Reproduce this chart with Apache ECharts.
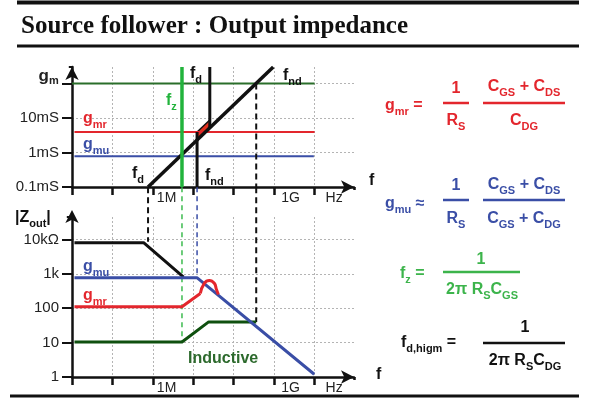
<!DOCTYPE html>
<html><head><meta charset="utf-8">
<script src="https://cdn.jsdelivr.net/npm/echarts@6/dist/echarts.min.js"></script>
<style>html,body{margin:0;padding:0;background:#fff}#c{width:604px;height:400px}</style>
</head><body><div id="c"></div>
<script>
// ---------------- data ----------------
// x tick labels by decade exponent of frequency (Hz)
const freqTickLabels = {6: '1M', 9: '1G', 10: 'Hz'};
// upper y tick labels by decade exponent of transconductance (S)
const gmTickLabels = {'-4': '0.1mS', '-3': '1mS', '-2': '10mS', '-1': 'gm'};
// lower y tick labels by decade exponent of |Zout| (ohm)
const zTickLabels = {0: '1', 1: '10', 2: '100', 3: '1k', 4: '10kΩ'};

// upper panel: transconductance vs frequency  [Hz, S]
const gmLine   = [[1e4, 0.1], [1e10, 0.1]];
const gmrLine  = [[1.15e4, 3.93e-3], [1e10, 3.93e-3]];
const gmuLine  = [[1.15e4, 7.8e-4], [9.6e9, 7.8e-4]];
const gmDiag   = [[7.6e5, 1e-4], [9.5e8, 0.3]];
const fzLine   = [[5.25e6, 1e-4], [5.25e6, 0.3]];
const fdVert   = [[2.56e7, 5.2e-3], [2.56e7, 0.3]];
const fndVert  = [[1.24e7, 1e-4], [1.24e7, 3.93e-3]];
const gmrPatch = [[1.24e7, 3.93e-3], [2.56e7, 8.7e-3], [2.56e7, 5.2e-3], [1.24e7, 2.36e-3]];
const fndHighTop = [[3.6e8, 0.1], [3.6e8, 1e-4]];

// lower panel: |Zout| vs frequency  [Hz, ohm]
const zBlack   = [[1.15e4, 8000], [5.9e5, 8000], [5.75e6, 800]];
const zBlue    = [[1.15e4, 770], [1.23e7, 770], [9.8e9, 1.2]];
const zRed     = [[1.15e4, 110], [5.25e6, 110], [1.49e7, 266]];
const zRedLoop = [[1.49e7, 266], [1.87e7, 530], [2.49e7, 640], [3.31e7, 530], [3.72e7, 355], [4.17e7, 250]];
const zGreen   = [[1.15e4, 10.4], [5.25e6, 10.4], [2.4e7, 40], [3.6e8, 40]];
// dashed guides (extend up across the gap between the panels)
const fdDash      = [[7.6e5, 3.3e5], [7.6e5, 8500]];
const fzDash      = [[5.25e6, 3.3e5], [5.25e6, 10.4]];
const fndDash     = [[1.24e7, 3.3e5], [1.24e7, 770]];
const fndHighDash = [[3.6e8, 3.3e5], [3.6e8, 40]];

// ---------------- styling ----------------
const FONT = '"Liberation Sans", Arial, sans-serif';
const C = {
  black: '#111111', red: '#e3262d', blue: '#3a4ea6',
  gmGreen: '#2a6e2a', fzGreen: '#22b33c', dkGreen: '#0f500f',
  inductive: '#2d6a2d', grid: '#b4b4b4', eqGreen: '#3cb44b'
};

function decade(v) {
  const l = Math.log10(v); const k = Math.round(l);
  return Math.abs(l - k) < 0.01 ? k : null;
}

function xAxisCfg(gridIndex) {
  return {
    type: 'log', logBase: 10, gridIndex, min: 1e4, max: 9.44e10,
    axisLine: { show: true, symbol: ['none', 'arrow'], symbolSize: [10, 13],
      lineStyle: { color: C.black, width: 2.5 } },
    axisTick: { show: true, inside: false, length: 8, lineStyle: { color: C.black, width: 2.5 } },
    splitLine: { show: true, showMinLine: false, showMaxLine: false,
      lineStyle: { color: C.grid, width: 1, type: [2, 2] } },
    minorTick: { show: false }, minorSplitLine: { show: false },
    axisLabel: {
      show: true, margin: 4, align: 'left', color: '#222', fontFamily: FONT, fontSize: 14,
      formatter: v => { const k = decade(v); const t = k === null ? null : freqTickLabels[k]; return t ? `{p${k}|${t}}` : ''; },
      rich: { p6: { padding: [0, 0, 0, 4], fontSize: 14, fontFamily: FONT, color: '#222' },
              p9: { padding: [0, 0, 0, 7], fontSize: 14, fontFamily: FONT, color: '#222' },
              p10: { padding: [0, 0, 0, 11], fontSize: 14, fontFamily: FONT, color: '#222' } }
    }
  };
}

function yAxisCfg(gridIndex, min, max, labels, arrowOffset) {
  return {
    type: 'log', logBase: 10, gridIndex, min, max,
    axisLine: { show: true, symbol: ['none', 'arrow'], symbolSize: [10, 13], symbolOffset: [0, arrowOffset],
      lineStyle: { color: C.black, width: 2.5 } },
    axisTick: { show: true, inside: false, length: 10, lineStyle: { color: C.black, width: 2 } },
    splitLine: { show: true, showMinLine: false, showMaxLine: false,
      lineStyle: { color: C.grid, width: 1, type: [2, 2] } },
    minorTick: { show: false }, minorSplitLine: { show: false },
    axisLabel: {
      show: true, margin: 13, color: '#222', fontFamily: FONT, fontSize: 15,
      formatter: v => { const k = decade(v); if (k === null) return ''; const t = labels[k];
        if (t === 'gm') return '{g|g}{m|m}{sp| }'; return t || ''; },
      rich: { g: { fontSize: 17, fontWeight: 'bold', fontFamily: FONT, color: '#222', verticalAlign: 'top' },
              m: { fontSize: 11, fontWeight: 'bold', fontFamily: FONT, color: '#222', verticalAlign: 'top', padding: [8, 0, 0, 0] },
              sp: { fontSize: 1, lineHeight: 32 } }
    }
  };
}

function line(data, color, width, xi, opts) {
  return Object.assign({
    type: 'line', xAxisIndex: xi, yAxisIndex: xi, data, symbol: 'none', silent: true,
    animation: false, lineStyle: { color, width, cap: 'butt', join: 'round' }
  }, opts || {});
}
function dashed(data, color, width, xi, dash) {
  return line(data, color, width, xi, { clip: false, lineStyle: { color, width, type: dash, cap: 'butt' } });
}

// rich text with subscript tokens
function rt(x, y, text, color, size, align) {
  const sub = Math.round(size * 0.7);
  return { type: 'text', z: 60, silent: true, style: {
    x, y, text, align: align || 'left', verticalAlign: 'middle', fill: color,
    font: `bold ${size}px ${FONT}`,
    rich: {
      n: { fill: color, fontSize: size, fontWeight: 'bold', fontFamily: FONT, lineHeight: size + 6 },
      s: { fill: color, fontSize: sub, fontWeight: 'bold', fontFamily: FONT, verticalAlign: 'bottom', lineHeight: sub + 1 }
    } } };
}
function bar(x1, x2, y, color) {
  return { type: 'line', z: 60, silent: true, shape: { x1, y1: y, x2, y2: y }, style: { stroke: color, lineWidth: 2.5 } };
}
function cover(x, y, w, h) {
  return { type: 'rect', z: 40, silent: true, shape: { x, y, width: w, height: h }, style: { fill: '#fff' } };
}

const graphics = [
  // frame lines + title
  { type: 'line', z: 60, shape: { x1: 17, y1: 2.5, x2: 579, y2: 2.5 }, style: { stroke: '#111', lineWidth: 4 } },
  { type: 'line', z: 60, shape: { x1: 17, y1: 46, x2: 579, y2: 46 }, style: { stroke: '#111', lineWidth: 3 } },
  { type: 'line', z: 60, shape: { x1: 10, y1: 396, x2: 579, y2: 396 }, style: { stroke: '#111', lineWidth: 3 } },
  { type: 'text', z: 60, style: { x: 21, y: 27, text: 'Source follower : Output impedance', verticalAlign: 'middle',
      fill: '#111', font: 'bold 25px "Liberation Serif", "Times New Roman", serif' } },
  // hide boundary ticks at axis ends
  cover(349, 190, 9, 8), cover(349, 380, 9, 8), cover(55, 65.5, 13.8, 3.2), cover(55, 215.4, 11.8, 3.2),
  // axis names
  rt(369, 181, '{n|f}', C.black, 16), rt(376, 375, '{n|f}', C.black, 16),
  rt(15, 218, '{n||Z}{s|out}{n||}', C.black, 16),
  // upper panel annotations
  rt(190, 74, '{n|f}{s|d}', C.black, 16),
  rt(283, 76, '{n|f}{s|nd}', C.black, 16),
  rt(166, 101, '{n|f}{s|z}', C.fzGreen, 16),
  rt(132, 174, '{n|f}{s|d}', C.black, 16),
  rt(205, 176, '{n|f}{s|nd}', C.black, 16),
  rt(83, 119, '{n|g}{s|mr}', C.red, 16),
  rt(83, 145, '{n|g}{s|mu}', C.blue, 16),
  // lower panel annotations
  rt(83, 267, '{n|g}{s|mu}', C.blue, 16),
  rt(83, 296, '{n|g}{s|mr}', C.red, 16),
  rt(188, 359, '{n|Inductive}', C.inductive, 16),
  // equations: gmr
  rt(385, 106, '{n|g}{s|mr}{n| =}', C.red, 16),
  rt(456, 89, '{n|1}', C.red, 16, 'center'), bar(443, 469, 103, C.red), rt(456, 121, '{n|R}{s|S}', C.red, 16, 'center'),
  rt(524, 87, '{n|C}{s|GS}{n| + C}{s|DS}', C.red, 16, 'center'), bar(483, 565, 103, C.red),
  rt(524, 121, '{n|C}{s|DG}', C.red, 16, 'center'),
  // gmu
  rt(385, 204, '{n|g}{s|mu}{n| ≈}', C.blue, 16),
  rt(456, 186, '{n|1}', C.blue, 16, 'center'), bar(443, 469, 200, C.blue), rt(456, 219, '{n|R}{s|S}', C.blue, 16, 'center'),
  rt(524, 185, '{n|C}{s|GS}{n| + C}{s|DS}', C.blue, 16, 'center'), bar(483, 565, 200, C.blue),
  rt(524, 219, '{n|C}{s|GS}{n| + C}{s|DG}', C.blue, 16, 'center'),
  // fz
  rt(400, 274, '{n|f}{s|z}{n| =}', C.eqGreen, 16),
  rt(481, 260, '{n|1}', C.eqGreen, 16, 'center'), bar(443, 520, 272, C.eqGreen),
  rt(482, 290, '{n|2π R}{s|S}{n|C}{s|GS}', C.eqGreen, 16, 'center'),
  // fd,higm
  rt(401, 343, '{n|f}{s|d,higm}{n| =}', C.black, 16),
  rt(525, 328, '{n|1}', C.black, 16, 'center'), bar(483, 565, 343, C.black),
  rt(525, 361, '{n|2π R}{s|S}{n|C}{s|DG}', C.black, 16, 'center')
];

const chart = echarts.init(document.getElementById('c'), null, { renderer: 'canvas' });
chart.setOption({
  animation: false,
  backgroundColor: '#fff',
  grid: [
    { left: 72, top: 67, width: 282, height: 120, outerBoundsMode: 'none', containLabel: false },
    { left: 72, top: 217, width: 282, height: 160, outerBoundsMode: 'none', containLabel: false }
  ],
  xAxis: [xAxisCfg(0), xAxisCfg(1)],
  yAxis: [yAxisCfg(0, 1e-4, 0.3, gmTickLabels, 0), yAxisCfg(1, 1, 44800, zTickLabels, 7)],
  graphic: graphics,
  series: [
    line(gmLine, C.gmGreen, 2, 0),
    line(gmrLine, C.red, 2, 0),
    line(gmuLine, C.blue, 2, 0),
    dashed(fndHighTop, C.black, 2, 0, [6, 4]),
    line(gmDiag, C.black, 3.5, 0),
    line(fzLine, C.fzGreen, 3.5, 0, { clip: false }),
    {
      type: 'custom', xAxisIndex: 0, yAxisIndex: 0, data: gmrPatch, silent: true, animation: false,
      renderItem: (params, api) => {
        if (params.dataIndex !== 0) return null;
        const pts = gmrPatch.map(p => api.coord(p));
        return { type: 'polygon', shape: { points: pts }, style: { fill: '#e0301e', stroke: C.black, lineWidth: 1.5 } };
      }
    },
    line(fdVert, C.black, 3, 0, { clip: false }),
    line(fndVert, C.black, 3, 0),
    dashed(fdDash, C.black, 2, 1, [6, 4]),
    dashed(fzDash, '#3dbb4f', 1.5, 1, [5, 4]),
    dashed(fndDash, C.blue, 1.5, 1, [5, 4]),
    dashed(fndHighDash, C.black, 2, 1, [6, 4]),
    line(zBlack, C.black, 3, 1),
    line(zGreen, C.dkGreen, 3, 1),
    line(zBlue, C.blue, 3, 1),
    line(zRed, C.red, 3, 1),
    line(zRedLoop, C.red, 3, 1, { smooth: 0.5 })
  ]
});
</script></body></html>
